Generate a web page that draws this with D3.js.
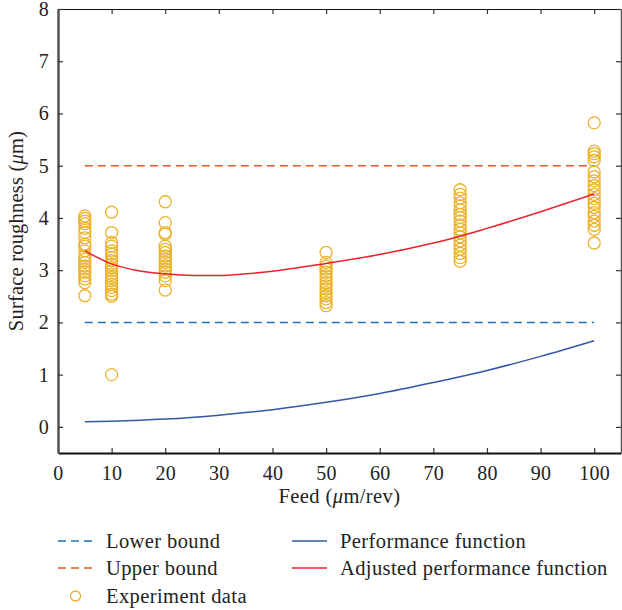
<!DOCTYPE html>
<html>
<head>
<meta charset="utf-8">
<script src="https://cdn.jsdelivr.net/npm/d3@7"></script>
<style>
  html, body { margin: 0; padding: 0; background: #fff; }
  svg text { font-family: "Liberation Serif", "DejaVu Serif", serif; fill: #222; }
</style>
</head>
<body>
<div id="chart"></div>
<script>
// Experiment data, one array per feed value (surface roughness in um)
const FEEDS = [5, 10, 20, 50, 75, 100];
const EXP_F5 = [4.04, 3.99, 3.94, 3.89, 3.8, 3.72, 3.62, 3.5, 3.46, 3.37, 3.27, 3.21, 3.15, 3.08, 3.02, 2.96, 2.89, 2.83, 2.76, 2.51];
const EXP_F10 = [4.11, 3.72, 3.53, 3.46, 3.37, 3.31, 3.24, 3.18, 3.11, 3.05, 2.99, 2.92, 2.86, 2.8, 2.73, 2.67, 2.61, 2.54, 2.5, 1.0];
const EXP_F20 = [4.31, 3.91, 3.72, 3.69, 3.46, 3.4, 3.34, 3.27, 3.21, 3.15, 3.08, 3.02, 2.96, 2.89, 2.8, 2.62];
const EXP_F50 = [3.34, 3.15, 3.08, 3.02, 2.96, 2.89, 2.83, 2.76, 2.7, 2.64, 2.57, 2.51, 2.45, 2.38, 2.32];
const EXP_F75 = [4.54, 4.45, 4.38, 4.29, 4.23, 4.15, 4.07, 4.01, 3.94, 3.86, 3.78, 3.71, 3.64, 3.56, 3.48, 3.4, 3.32, 3.24, 3.17];
const EXP_F100 = [5.82, 5.28, 5.23, 5.17, 5.1, 4.88, 4.79, 4.71, 4.62, 4.54, 4.45, 4.37, 4.28, 4.2, 4.1, 4.03, 3.94, 3.86, 3.78, 3.52];
const EXP_SETS = [EXP_F5, EXP_F10, EXP_F20, EXP_F50, EXP_F75, EXP_F100];

// Curves
const PERF_X = [5, 10, 20, 30, 40, 50, 60, 70, 80, 90, 100];
const PERF_Y = [0.1, 0.11, 0.15, 0.225, 0.33, 0.47, 0.64, 0.85, 1.08, 1.35, 1.65];
const ADJ_X = [5, 10, 15, 20, 25, 30, 35, 40, 50, 60, 70, 75, 80, 90, 100];
const ADJ_Y = [3.37, 3.12, 2.99, 2.93, 2.9, 2.9, 2.93, 2.98, 3.13, 3.3, 3.52, 3.65, 3.8, 4.12, 4.46];

// Bounds
const BOUND_X = [5, 100];
const LOWER_BOUND = 2;
const UPPER_BOUND = 5;

const X_TICKS = [0, 10, 20, 30, 40, 50, 60, 70, 80, 90, 100];
const Y_TICKS = [0, 1, 2, 3, 4, 5, 6, 7, 8];

const WIDTH = 622, HEIGHT = 610;
const PLOT = { left: 58, right: 621, top: 9, bottom: 453 };
const FONT = "'Liberation Serif', 'DejaVu Serif', serif";

const COLORS = {
  lower: "#1f6fbf",
  upper: "#ea5520",
  perf: "#3556a8",
  adj: "#e8232b",
  exp: "#ecb22a"
};

const svg = d3.select("#chart").append("svg")
  .attr("width", WIDTH)
  .attr("height", HEIGHT);

const x = d3.scaleLinear().domain([0, 105]).range([PLOT.left, PLOT.right]);
const y = d3.scaleLinear().domain([-0.5, 8]).range([PLOT.bottom, PLOT.top]);

const line = d3.line()
  .x(d => x(d[0]))
  .y(d => y(d[1]))
  .curve(d3.curveMonotoneX);

// Bounds (dashed)
svg.append("path")
  .attr("d", line(BOUND_X.map(v => [v, LOWER_BOUND])))
  .attr("fill", "none")
  .attr("stroke", COLORS.lower)
  .attr("stroke-width", 1.5)
  .attr("stroke-dasharray", "8,5");

svg.append("path")
  .attr("d", line(BOUND_X.map(v => [v, UPPER_BOUND])))
  .attr("fill", "none")
  .attr("stroke", COLORS.upper)
  .attr("stroke-width", 1.5)
  .attr("stroke-dasharray", "8,5");

// Experiment points
const points = [];
EXP_SETS.forEach((set, i) => set.forEach(v => points.push([FEEDS[i], v])));

svg.append("g")
  .selectAll("circle")
  .data(points)
  .join("circle")
  .attr("cx", d => x(d[0]))
  .attr("cy", d => y(d[1]))
  .attr("r", 6)
  .attr("fill", "none")
  .attr("stroke", COLORS.exp)
  .attr("stroke-width", 1.3);

// Performance function and adjusted one
svg.append("path")
  .attr("d", line(PERF_X.map((v, i) => [v, PERF_Y[i]])))
  .attr("fill", "none")
  .attr("stroke", COLORS.perf)
  .attr("stroke-width", 1.5);

svg.append("path")
  .attr("d", line(ADJ_X.map((v, i) => [v, ADJ_Y[i]])))
  .attr("fill", "none")
  .attr("stroke", COLORS.adj)
  .attr("stroke-width", 1.5);

// Axes (ticks pointing inward)
const TICK = 5;

const xAxis = svg.append("g")
  .attr("transform", `translate(0,${PLOT.bottom})`)
  .call(d3.axisBottom(x).tickValues(X_TICKS).tickSize(-TICK).tickPadding(TICK + 8).tickSizeOuter(0));

const xTop = svg.append("g")
  .attr("transform", `translate(0,${PLOT.top})`)
  .call(d3.axisTop(x).tickValues(X_TICKS).tickSize(-TICK).tickFormat("").tickSizeOuter(0));

const yAxis = svg.append("g")
  .attr("transform", `translate(${PLOT.left},0)`)
  .call(d3.axisLeft(y).tickValues(Y_TICKS).tickSize(-TICK).tickPadding(TICK + 4).tickSizeOuter(0));

const yRight = svg.append("g")
  .attr("transform", `translate(${PLOT.right},0)`)
  .call(d3.axisRight(y).tickValues(Y_TICKS).tickSize(-TICK).tickFormat("").tickSizeOuter(0));

[xAxis, yAxis].forEach(g => g.selectAll("text")
  .style("font-family", FONT)
  .style("font-size", "20px")
  .style("letter-spacing", "0.3px")
  .attr("fill", "#222"));

xAxis.select(".domain").attr("stroke", "#111").attr("stroke-width", 2);
xTop.select(".domain").attr("stroke", "#111").attr("stroke-width", 1.2);
yAxis.select(".domain").attr("stroke", "#555").attr("stroke-width", 2.5);
yRight.select(".domain").attr("stroke", "#555").attr("stroke-width", 1.5);
[xAxis, xTop, yAxis, yRight].forEach(g => g.selectAll(".tick line")
  .attr("stroke", "#333")
  .attr("stroke-width", 1.2));

// Axis titles
const xTitle = svg.append("text")
  .attr("x", (PLOT.left + PLOT.right) / 2)
  .attr("y", 503)
  .attr("text-anchor", "middle")
  .style("font-family", FONT)
  .style("font-size", "20.5px")
  .style("letter-spacing", "0.4px");
xTitle.append("tspan").text("Feed (");
xTitle.append("tspan").style("font-style", "italic").text("\u03bc");
xTitle.append("tspan").text("m/rev)");

const yTitle = svg.append("text")
  .attr("transform", `translate(23,${(PLOT.top + PLOT.bottom) / 2}) rotate(-90)`)
  .attr("text-anchor", "middle")
  .style("font-family", FONT)
  .style("font-size", "20.5px")
  .style("letter-spacing", "0.2px");
yTitle.append("tspan").text("Surface roughness (");
yTitle.append("tspan").style("font-style", "italic").text("\u03bc");
yTitle.append("tspan").text("m)");

// Legend
const legendItems = [
  { label: "Lower bound", type: "dash", color: COLORS.lower, col: 0, row: 0 },
  { label: "Upper bound", type: "dash", color: COLORS.upper, col: 0, row: 1 },
  { label: "Experiment data", type: "circle", color: COLORS.exp, col: 0, row: 2 },
  { label: "Performance function", type: "line", color: COLORS.perf, col: 1, row: 0 },
  { label: "Adjusted performance function", type: "line", color: COLORS.adj, col: 1, row: 1 }
];
const LEG_COL_X = [58, 292];
const LEG_ROW_Y = [541, 568, 596];
const LEG_LINE_W = 35;

const legend = svg.append("g");
legendItems.forEach(d => {
  const lx = LEG_COL_X[d.col];
  const ly = LEG_ROW_Y[d.row];
  if (d.type === "circle") {
    legend.append("circle")
      .attr("cx", lx + LEG_LINE_W / 2)
      .attr("cy", ly)
      .attr("r", 5)
      .attr("fill", "none")
      .attr("stroke", d.color)
      .attr("stroke-width", 1.3);
  } else {
    legend.append("line")
      .attr("x1", lx)
      .attr("x2", lx + LEG_LINE_W)
      .attr("y1", ly)
      .attr("y2", ly)
      .attr("stroke", d.color)
      .attr("stroke-width", 1.5)
      .attr("stroke-dasharray", d.type === "dash" ? "8,5" : null);
  }
  legend.append("text")
    .attr("x", lx + LEG_LINE_W + 13)
    .attr("y", ly + 6.5)
    .style("font-family", FONT)
    .style("font-size", "20.5px")
    .style("letter-spacing", "0.4px")
    .text(d.label);
});
</script>
</body>
</html>
